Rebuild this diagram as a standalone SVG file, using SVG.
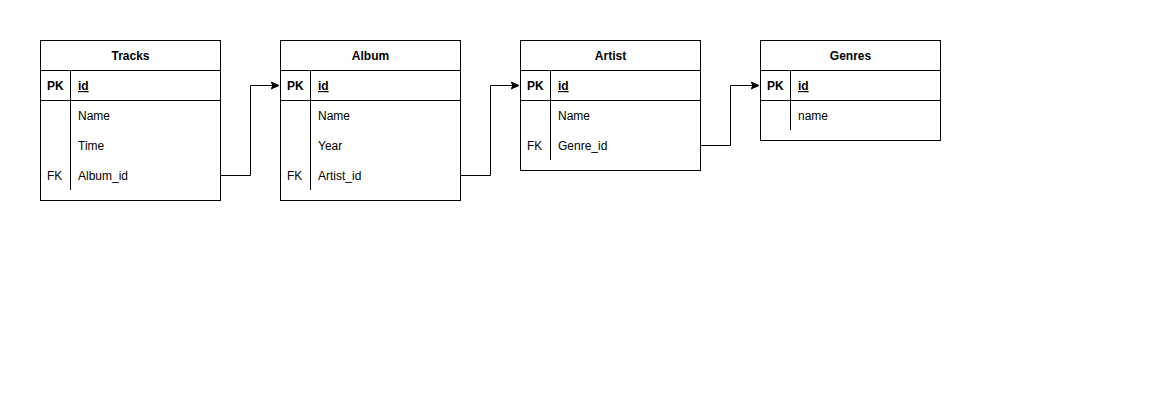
<svg xmlns="http://www.w3.org/2000/svg" width="1166" height="413" viewBox="0 0 1166 413">
<style>
.box{fill:#fff;stroke:#000;stroke-width:1}
.ln{stroke:#000;stroke-width:1;fill:none}
text{font-family:"Liberation Sans",Arial,Helvetica,sans-serif;font-size:12px;fill:#000}
.t{font-weight:bold;text-anchor:middle}
.k{font-weight:bold}
.u{font-weight:bold;text-decoration:underline}
</style>
<defs>
<marker id="arr" markerWidth="10" markerHeight="10" refX="8" refY="4" orient="auto" markerUnits="userSpaceOnUse">
<path d="M0,0.5 L8,4 L0,7.5 L2,4 Z" fill="#000" stroke="#000" stroke-width="1"/>
</marker>
</defs>
<rect width="1166" height="413" fill="#fff"/>
<g id="connectors">
<path class="ln" d="M220.5,175.5 H250.5 V85.5 H279" marker-end="url(#arr)"/>
<path class="ln" d="M460.5,175.5 H490.5 V85.5 H519" marker-end="url(#arr)"/>
<path class="ln" d="M700.5,145.5 H730.5 V85.5 H759" marker-end="url(#arr)"/>
</g>
<g id="tracks">
<rect class="box" x="40.5" y="40.5" width="180" height="160"/>
<path class="ln" d="M40.5,70.5 H220.5 M40.5,100.5 H220.5 M70.5,70.5 V190"/>
<text class="t" x="130.5" y="60">Tracks</text>
<text class="k" x="47" y="90">PK</text>
<text class="u" x="78" y="90">id</text>
<text x="78" y="120">Name</text>
<text x="78" y="150">Time</text>
<text x="47" y="180">FK</text>
<text x="78" y="180">Album_id</text>
</g>
<g id="album">
<rect class="box" x="280.5" y="40.5" width="180" height="160"/>
<path class="ln" d="M280.5,70.5 H460.5 M280.5,100.5 H460.5 M310.5,70.5 V190"/>
<text class="t" x="370.5" y="60">Album</text>
<text class="k" x="287" y="90">PK</text>
<text class="u" x="318" y="90">id</text>
<text x="318" y="120">Name</text>
<text x="318" y="150">Year</text>
<text x="287" y="180">FK</text>
<text x="318" y="180">Artist_id</text>
</g>
<g id="artist">
<rect class="box" x="520.5" y="40.5" width="180" height="130"/>
<path class="ln" d="M520.5,70.5 H700.5 M520.5,100.5 H700.5 M550.5,70.5 V160"/>
<text class="t" x="610.5" y="60">Artist</text>
<text class="k" x="527" y="90">PK</text>
<text class="u" x="558" y="90">id</text>
<text x="558" y="120">Name</text>
<text x="527" y="150">FK</text>
<text x="558" y="150">Genre_id</text>
</g>
<g id="genres">
<rect class="box" x="760.5" y="40.5" width="180" height="100"/>
<path class="ln" d="M760.5,70.5 H940.5 M760.5,100.5 H940.5 M790.5,70.5 V130"/>
<text class="t" x="850.5" y="60">Genres</text>
<text class="k" x="767" y="90">PK</text>
<text class="u" x="798" y="90">id</text>
<text x="798" y="120">name</text>
</g>
</svg>
